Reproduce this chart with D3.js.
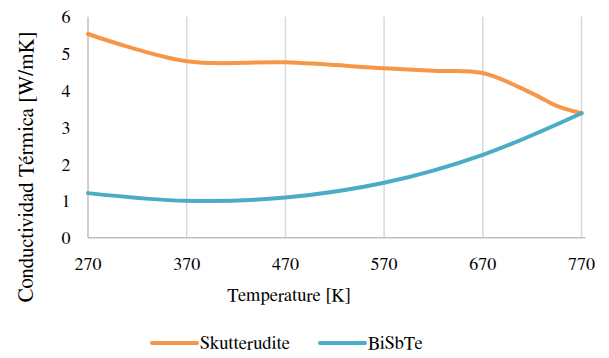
<!DOCTYPE html>
<html>
<head>
<meta charset="utf-8">
<script src="https://cdn.jsdelivr.net/npm/d3@7"></script>
<style>
  body { margin: 0; background: #fff; }
</style>
</head>
<body>
<svg id="chart" width="609" height="358"></svg>
<script>
// temperatures (K)
const skutTemps = [270, 370, 470, 570, 620, 670, 720, 745, 770];
const skutterudite = [5.53, 4.79, 4.76, 4.60, 4.53, 4.47, 3.92, 3.58, 3.38];
const biTemps = [270, 370, 470, 570, 670, 770];
const bisbte = [1.21, 1.00, 1.09, 1.49, 2.25, 3.38];
const xTicks = [270, 370, 470, 570, 670, 770];
const yTicks = [0, 1, 2, 3, 4, 5, 6];
const seriesNames = ["Skutterudite", "BiSbTe"];
const colors = ["#F79646", "#4BACC6"];

const FONT = '"FreeSerif", "Tinos", serif';
const svg = d3.select('#chart');

const x = d3.scaleLinear().domain([270, 770]).range([88, 581.5]);
const y = d3.scaleLinear().domain([0, 6]).range([237.7, 16.7]);

// place text with its own transform (a tiny rotation keeps the serif glyphs)
function at(px, py) {
    return `translate(${px},${py}) rotate(0.01)`;
}

// vertical gridlines
svg.append('g')
    .selectAll('line')
    .data(xTicks.slice(1))
    .join('line')
    .attr('x1', d => x(d)).attr('x2', d => x(d))
    .attr('y1', y(6)).attr('y2', y(0))
    .attr('stroke', '#d9d9d9')
    .attr('stroke-width', 1.5);

// axis lines
svg.append('line')
    .attr('x1', x(270)).attr('x2', x(770) + 4)
    .attr('y1', y(0)).attr('y2', y(0))
    .attr('stroke', '#bfbfbf').attr('stroke-width', 1.5);
svg.append('line')
    .attr('x1', x(270)).attr('x2', x(270))
    .attr('y1', y(6)).attr('y2', y(0))
    .attr('stroke', '#bfbfbf').attr('stroke-width', 1.5);

// tick labels
svg.append('g')
    .selectAll('text')
    .data(xTicks)
    .join('text')
    .attr('transform', d => at(x(d), 270))
    .attr('text-anchor', 'middle')
    .style('font-family', FONT)
    .style('font-size', '18px')
    .text(d => d);

svg.append('g')
    .selectAll('text')
    .data(yTicks)
    .join('text')
    .attr('transform', d => at(70.5, y(d) + 6.5))
    .attr('text-anchor', 'end')
    .style('font-family', FONT)
    .style('font-size', '18px')
    .text(d => d);

// axis titles
svg.append('text')
    .attr('transform', at(289, 301))
    .attr('text-anchor', 'middle')
    .style('font-family', FONT)
    .style('font-size', '18.5px')
    .text('Temperature [K]');

svg.append('text')
    .attr('transform', 'translate(32.5,167) rotate(-90)')
    .attr('text-anchor', 'middle')
    .style('font-family', FONT)
    .style('font-size', '21px')
    .text('Conductividad Térmica [W/mK]');

// lines
const line = d3.line()
    .x(d => x(d[0]))
    .y(d => y(d[1]))
    .curve(d3.curveCatmullRom.alpha(0.5));

[[skutTemps, skutterudite], [biTemps, bisbte]].forEach(([ts, vals], i) => {
    svg.append('path')
        .datum(ts.map((t, j) => [t, vals[j]]))
        .attr('d', line)
        .attr('fill', 'none')
        .attr('stroke', colors[i])
        .attr('stroke-width', 4)
        .attr('stroke-linecap', 'round');
});

// legend
const legend = svg.append('g');
const legX = [152, 320];
seriesNames.forEach((name, i) => {
    legend.append('line')
        .attr('x1', legX[i]).attr('x2', legX[i] + 45)
        .attr('y1', 343).attr('y2', 343)
        .attr('stroke', colors[i])
        .attr('stroke-width', 4)
        .attr('stroke-linecap', 'round');
    legend.append('text')
        .attr('transform', at(legX[i] + 48, 349))
        .style('font-family', FONT)
        .style('font-size', '18.5px')
        .text(name);
});
</script>
</body>
</html>
